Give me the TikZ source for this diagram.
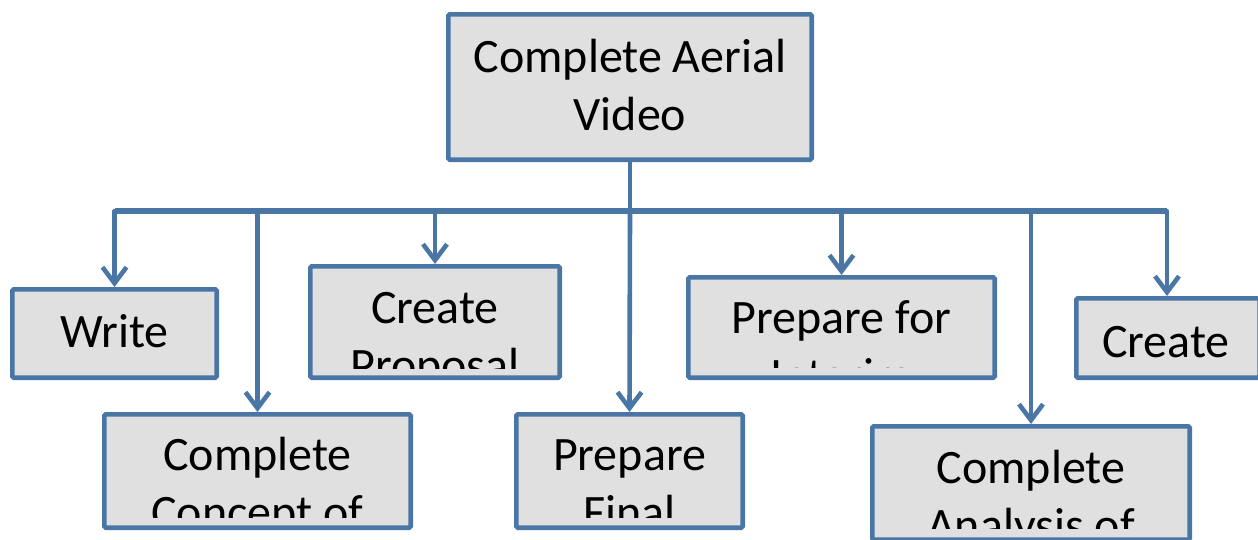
\documentclass[tikz,border=0pt]{standalone}
\usepackage{fontspec}
\setmainfont{Carlito}
\usetikzlibrary{arrows.meta}
\definecolor{lineblue}{RGB}{74,118,166}
\definecolor{boxgray}{RGB}{224,224,224}
\tikzset{
  box/.style={draw=lineblue, fill=boxgray, line width=4.6pt, rounded corners=1.5pt, inner sep=0pt},
  txt/.style={anchor=base, inner sep=0pt, font=\fontsize{48}{58}\selectfont, text=black},
  conn/.style={draw=lineblue, line width=4.6pt, line join=round, -{Straight Barb[length=16pt,width=24pt]}},
  stem/.style={draw=lineblue, line width=4.6pt, line join=round},
}
\begin{document}
\begin{tikzpicture}[x=1pt,y=-1pt]
\useasboundingbox (0,0) rectangle (1258,539);
% boxes
\node[box, minimum width=363.4pt, minimum height=145.4pt] (root) at (630,87) {};
\node[box, minimum width=204.4pt, minimum height=88.4pt] (write) at (114.5,333.5) {};
\node[box, minimum width=249.4pt, minimum height=111.4pt] (cprop) at (435,322) {};
\node[box, minimum width=306.4pt, minimum height=100.4pt] (pint) at (841.5,327.5) {};
\node[box, minimum width=183.4pt, minimum height=79.4pt] (create) at (1168,338) {};
\node[box, minimum width=306.4pt, minimum height=113.4pt] (ccon) at (257.5,471) {};
\node[box, minimum width=226.4pt, minimum height=113.4pt] (pfin) at (629.5,471) {};
\node[box, minimum width=317.4pt, minimum height=113.4pt] (cana) at (1031,483) {};
% texts
\node[txt] (root1) at ([yshift=-60pt]root.north) {Complete Aerial};
\node[txt] (root2) at ([yshift=-118pt]root.north) {Video};
\node[txt] (write1) at ([yshift=-60pt]write.north) {Write};
\begin{scope}
\clip ([xshift=4pt,yshift=-4pt]cprop.north west) rectangle ([xshift=-4pt,yshift=12pt]cprop.south east);
\node[txt] (cprop1) at ([yshift=-59pt]cprop.north) {Create};
\node[txt] (cprop2) at ([yshift=-117pt]cprop.north) {Proposal};
\end{scope}
\begin{scope}
\clip ([xshift=4pt,yshift=-4pt]pint.north west) rectangle ([xshift=-4pt,yshift=13pt]pint.south east);
\node[txt] (pint1) at ([yshift=-58pt]pint.north) {Prepare for};
\node[txt] (pint2) at ([yshift=-116pt]pint.north) {Interim};
\end{scope}
\node[txt] (create1) at ([xshift=-2pt,yshift=-61pt]create.north) {Create};
\begin{scope}
\clip ([xshift=4pt,yshift=-4pt]ccon.north west) rectangle ([xshift=-4pt,yshift=13pt]ccon.south east);
\node[txt] (ccon1) at ([yshift=-58pt]ccon.north) {Complete};
\node[txt] (ccon2) at ([yshift=-116pt]ccon.north) {Concept of};
\end{scope}
\begin{scope}
\clip ([xshift=4pt,yshift=-4pt]pfin.north west) rectangle ([xshift=-4pt,yshift=13pt]pfin.south east);
\node[txt] (pfin1) at ([yshift=-58pt]pfin.north) {Prepare};
\node[txt] (pfin2) at ([yshift=-116pt]pfin.north) {Final};
\end{scope}
\begin{scope}
\clip ([xshift=4pt,yshift=-4pt]cana.north west) rectangle ([xshift=-4pt,yshift=14pt]cana.south east);
\node[txt] (cana1) at ([yshift=-59pt]cana.north) {Complete};
\node[txt] (cana2) at ([yshift=-117pt]cana.north) {Analysis of};
\end{scope}
% connectors
\coordinate (bus) at (630,211);
\draw[stem] (root.south) -- (bus);
\draw[stem, line width=6pt] (write.north |- bus) -- ([xshift=-1pt]create.north |- bus);
\draw[conn] (bus) -| (write.north);
\draw[conn] (bus) -| (ccon.north);
\draw[conn] (bus) -| (cprop.north);
\draw[conn] (bus) -- (pfin.north);
\draw[conn] (bus) -| (pint.north);
\draw[conn] (bus) -| (cana.north);
\draw[conn] (bus) -| ([xshift=-1pt]create.north);
\end{tikzpicture}
\end{document}
